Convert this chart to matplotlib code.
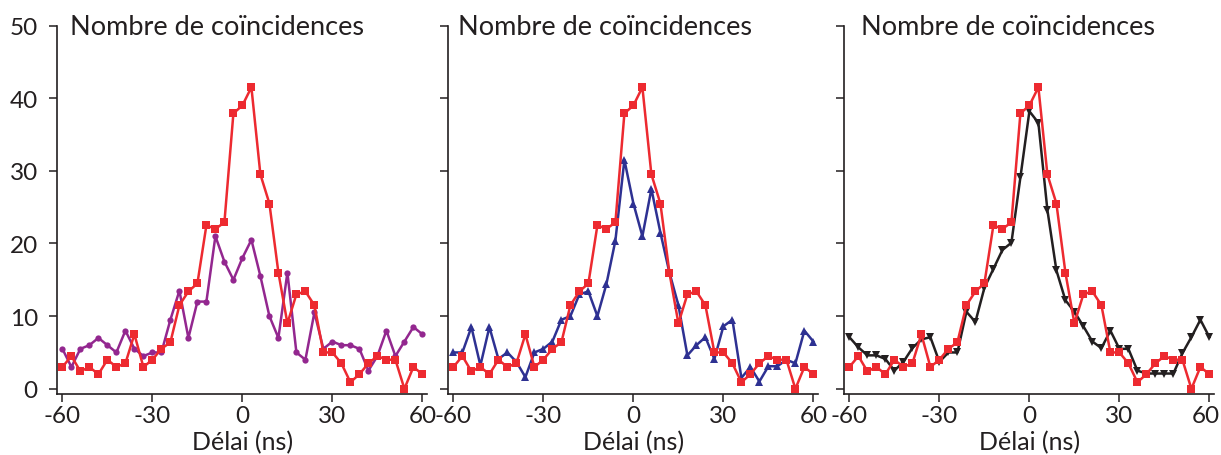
import matplotlib
matplotlib.use("Agg")
import matplotlib.pyplot as plt
import matplotlib.transforms as mtransforms
import numpy as np

plt.rcParams['font.family'] = ['Lato', 'DejaVu Sans']

delay = list(range(-60, 61, 3))

red = [3.0, 4.5, 2.4, 3.0, 2.0, 4.0, 3.0, 3.5, 7.5, 3.0, 4.0, 5.5, 6.4, 11.5,
       13.4, 14.5, 22.5, 22.0, 22.9, 37.9, 39.0, 41.5, 29.5, 25.5, 16.0, 9.0,
       13.0, 13.4, 11.5, 5.0, 5.0, 3.5, 0.9, 2.0, 3.5, 4.5, 4.0, 4.0, 0.0, 3.0, 2.0]

purple = [5.5, 3.0, 5.5, 6.0, 7.0, 6.0, 5.0, 8.0, 5.5, 4.5, 5.0, 5.0, 9.5, 13.5,
          7.0, 12.0, 12.0, 21.0, 17.5, 15.0, 18.0, 20.5, 15.5, 10.0, 7.0, 16.0,
          5.0, 4.0, 10.5, 5.5, 6.5, 6.0, 6.0, 5.5, 2.5, 4.5, 8.0, 4.5, 6.5, 8.5, 7.5]

blue = [5.0, 5.0, 8.5, 3.2, 8.5, 4.1, 5.0, 3.7, 1.6, 5.0, 5.5, 6.5, 9.5, 10.0,
        13.0, 13.4, 10.0, 14.4, 20.4, 31.5, 25.5, 21.0, 27.5, 21.5, 16.0, 11.5,
        4.6, 6.0, 7.1, 4.1, 8.6, 9.5, 1.5, 3.0, 1.0, 3.1, 3.1, 4.0, 3.5, 8.0, 6.5]

black = [7.1, 5.7, 4.6, 4.6, 4.1, 2.5, 3.7, 5.6, 6.8, 7.1, 3.7, 5.0, 5.0, 10.6,
         9.2, 13.9, 16.5, 19.1, 20.1, 29.1, 38.2, 36.6, 24.6, 16.3, 12.2, 10.6,
         8.6, 6.5, 5.6, 8.0, 5.5, 5.5, 2.5, 2.1, 2.1, 2.1, 2.1, 4.9, 7.1, 9.5, 7.1]

xticks = [-60, -30, 0, 30, 60]
yticks = [0, 10, 20, 30, 40, 50]
title_text = "Nombre de coïncidences"
xlabel_text = "Délai (ns)"

RED = '#ED2A30'
PURPLE = '#93278F'
BLUE = '#2E3192'
BLACK = '#231F20'
TXT = '#231F20'

W, H = 1221, 456
fig = plt.figure(figsize=(W / 100, H / 100), dpi=100)

lefts = [57.3, 448.3, 844.3]
text_x = [-57.4, -58.4, -56.1]
others = [(purple, PURPLE, 'o', 4.5), (blue, BLUE, '^', 5.8), (black, BLACK, 'v', 5.8)]
ax_w = 369.6
bottom_px = 394.5
top_px = 26.5

for i, left in enumerate(lefts):
    ax = fig.add_axes([left / W, (H - bottom_px) / H, ax_w / W, (bottom_px - top_px) / H])
    vals, col, mk, ms = others[i]
    ax.plot(delay, vals, color=col, marker=mk, markersize=ms, lw=1.8,
            markeredgewidth=0, zorder=2)
    ax.plot(delay, red, color=RED, marker='s', markersize=5.5, lw=1.8,
            markeredgewidth=0, zorder=3)
    ax.set_xlim(-61.7, 61.5)
    ax.set_ylim(-0.65, 50)
    ax.set_xticks(xticks)
    ax.set_yticks(yticks)
    ax.set_xticklabels([str(t) for t in xticks])
    for s in ['top', 'right']:
        ax.spines[s].set_visible(False)
    for s in ['left', 'bottom']:
        ax.spines[s].set_color(TXT)
        ax.spines[s].set_linewidth(1.2)
    ax.tick_params(axis='both', direction='out', length=6, width=1.1, color=TXT,
                   labelcolor=TXT, labelsize=17.5)
    ax.tick_params(axis='x', pad=2)
    ax.tick_params(axis='y', pad=8)
    if i > 0:
        ax.set_yticklabels([])
    if i == 2:
        lab = ax.get_xticklabels()[-1]
        lab.set_transform(lab.get_transform() +
                          mtransforms.ScaledTranslation(-4 / 100, 0, fig.dpi_scale_trans))
    ax.set_xlabel(xlabel_text, fontsize=18, color=TXT, labelpad=3)
    ax.text(text_x[i], 48.8, title_text, fontsize=19.5, color=TXT,
            ha='left', va='baseline')
    ax.patch.set_visible(False)

fig.savefig('out.png', dpi=100)
